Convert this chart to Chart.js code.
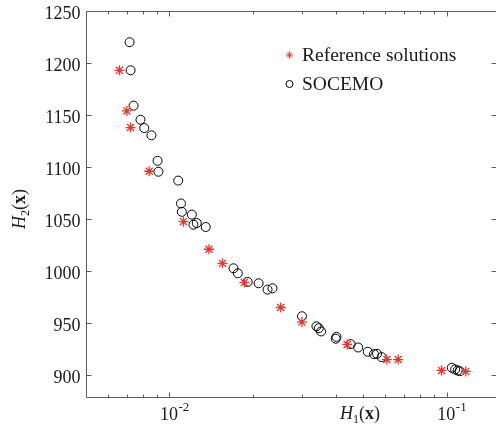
<!DOCTYPE html>
<html>
<head>
<meta charset="utf-8">
<script src="https://cdn.jsdelivr.net/npm/chart.js@4.4.1/dist/chart.umd.min.js"></script>
<style>
  html, body { margin: 0; padding: 0; background: #fff; overflow: hidden; }
  #wrap { width: 502px; height: 426px; }
</style>
</head>
<body>
<div id="wrap"><canvas id="front"></canvas></div>
<script>
// Pareto front: reference solutions vs SOCEMO
const refH1 = [0.0066, 0.00702, 0.00724, 0.00845, 0.01123, 0.01388, 0.01553, 0.01862, 0.02518, 0.03003, 0.04373, 0.06079, 0.06677, 0.0957, 0.117];
const refH2 = [1193, 1154, 1138, 1096, 1047.5, 1021, 1007.5, 989, 965, 951, 929.5, 915, 915, 904.5, 903.6];

const socH1 = [0.00718, 0.00724, 0.00742, 0.00786, 0.00811, 0.00861, 0.00906, 0.00912, 0.01075, 0.0110, 0.01108, 0.01204,
               0.0122, 0.01254, 0.01351, 0.01701, 0.01763, 0.01914, 0.02096, 0.02257, 0.02352, 0.03003, 0.03387, 0.03455,
               0.0352, 0.03975, 0.0400, 0.04498, 0.04788, 0.05184, 0.05463, 0.056, 0.0582, 0.1042, 0.1071, 0.1095, 0.1113];
const socH2 = [1220, 1193, 1159, 1145.5, 1137.5, 1130.5, 1106, 1095.5, 1087, 1065, 1057, 1054.3,
               1044.6, 1046.2, 1042.4, 1002.7, 997.9, 989.6, 988.3, 982.2, 983.5, 956.6, 947, 945.1,
               942, 935, 936.8, 929.8, 926.6, 922.5, 920.2, 920.5, 917.3, 907.1, 905.5, 904.5, 903.8];

const yTicks = [900, 950, 1000, 1050, 1100, 1150, 1200, 1250];
const xMajor = [0.01, 0.1];
const xMajorExp = ['-2', '-1'];
const xMinor = [0.006, 0.007, 0.008, 0.009, 0.02, 0.03, 0.04, 0.05, 0.06, 0.07, 0.08, 0.09];

const legendNames = ['Reference solutions', 'SOCEMO'];

const RED = '#e8342e';
const FONT = '"Liberation Serif", "Times New Roman", serif';

function toPoints(xs, ys) {
  return xs.map((x, i) => ({ x: x, y: ys[i] }));
}

function drawStar(ctx, x, y, r) {
  const d = r * Math.SQRT1_2;
  ctx.beginPath();
  ctx.moveTo(x - r, y); ctx.lineTo(x + r, y);
  ctx.moveTo(x, y - r); ctx.lineTo(x, y + r);
  ctx.moveTo(x - d, y - d); ctx.lineTo(x + d, y + d);
  ctx.moveTo(x - d, y + d); ctx.lineTo(x + d, y - d);
  ctx.stroke();
}

// box, inward ticks, labels, titles and legend (MATLAB look)
const framePlugin = {
  id: 'frame',
  afterDraw(chart) {
    const ctx = chart.ctx;
    const a = chart.chartArea;
    const xs = chart.scales.x, ys = chart.scales.y;
    const L = Math.round(a.left) + 0.5, R = Math.round(a.right) + 0.5;
    const T = Math.round(a.top) + 0.5, B = Math.round(a.bottom) + 0.5;

    ctx.save();
    ctx.strokeStyle = '#5c5c5c';
    ctx.lineWidth = 1;
    ctx.beginPath();
    ctx.rect(L, T, R - L, B - T);
    xMajor.forEach(v => {
      const px = Math.round(xs.getPixelForValue(v)) + 0.5;
      ctx.moveTo(px, B); ctx.lineTo(px, B - 5);
      ctx.moveTo(px, T); ctx.lineTo(px, T + 5);
    });
    xMinor.forEach(v => {
      const px = Math.round(xs.getPixelForValue(v)) + 0.5;
      ctx.moveTo(px, B); ctx.lineTo(px, B - 3);
      ctx.moveTo(px, T); ctx.lineTo(px, T + 3);
    });
    yTicks.forEach(v => {
      const py = Math.round(ys.getPixelForValue(v)) + 0.5;
      ctx.moveTo(L, py); ctx.lineTo(L + 5, py);
      ctx.moveTo(R, py); ctx.lineTo(R - 5, py);
    });
    ctx.stroke();

    ctx.fillStyle = '#1a1a1a';
    // y tick labels
    ctx.font = '18px ' + FONT;
    ctx.textAlign = 'right';
    ctx.textBaseline = 'alphabetic';
    yTicks.forEach(v => {
      ctx.fillText(String(v), L - 6, ys.getPixelForValue(v) + 8);
    });

    // x tick labels 10^n
    ctx.textAlign = 'left';
    xMajor.forEach((v, i) => {
      const px = xs.getPixelForValue(v);
      const x0 = px - 9.5;
      ctx.font = '18px ' + FONT;
      ctx.fillText('10', x0, 420);
      const w = ctx.measureText('10').width;
      ctx.font = '13px ' + FONT;
      ctx.fillText(xMajorExp[i], x0 + w + 0.5, 411);
    });

    // axis titles
    const drawTitle = (x, y, sub) => {
      let cx = x;
      ctx.font = 'italic 18px ' + FONT;
      ctx.fillText('H', cx, y); cx += ctx.measureText('H').width;
      ctx.font = '12px ' + FONT;
      ctx.fillText(sub, cx, y + 4); cx += ctx.measureText(sub).width;
      ctx.font = '18px ' + FONT;
      ctx.fillText('(', cx, y); cx += ctx.measureText('(').width;
      ctx.font = 'bold 18px ' + FONT;
      ctx.fillText('x', cx, y); cx += ctx.measureText('x').width;
      ctx.font = '18px ' + FONT;
      ctx.fillText(')', cx, y);
    };
    drawTitle(340, 419, '1');
    ctx.save();
    ctx.translate(25, 229);
    ctx.rotate(-Math.PI / 2);
    drawTitle(0, 0, '2');
    ctx.restore();

    // legend
    ctx.font = '19.5px ' + FONT;
    ctx.textBaseline = 'middle';
    ctx.fillText(legendNames[0], 302, 56);
    ctx.fillText(legendNames[1], 302, 85);
    ctx.strokeStyle = RED;
    ctx.lineWidth = 1;
    drawStar(ctx, 289.5, 55, 3.5);
    ctx.strokeStyle = '#000';
    ctx.beginPath();
    ctx.arc(289.5, 84, 3.5, 0, Math.PI * 2);
    ctx.stroke();
    ctx.restore();
  }
};

new Chart(document.getElementById('front'), {
  type: 'scatter',
  data: {
    datasets: [
      {
        label: legendNames[0],
        data: toPoints(refH1, refH2),
        pointStyle: 'star',
        pointRadius: 5,
        borderColor: RED,
        backgroundColor: RED,
        pointBorderWidth: 1.3
      },
      {
        label: legendNames[1],
        data: toPoints(socH1, socH2),
        pointStyle: 'circle',
        pointRadius: 4.5,
        borderColor: '#000',
        backgroundColor: 'rgba(0,0,0,0)',
        pointBorderWidth: 1
      }
    ]
  },
  options: {
    responsive: true,
    maintainAspectRatio: false,
    animation: false,
    layout: { padding: { left: 86, top: 11, right: 3, bottom: 29 } },
    plugins: {
      legend: { display: false },
      tooltip: { enabled: false }
    },
    scales: {
      x: { type: 'logarithmic', min: 0.005, max: 0.15, display: false },
      y: { type: 'linear', min: 879, max: 1250, display: false }
    }
  },
  plugins: [framePlugin]
});
</script>
</body>
</html>
